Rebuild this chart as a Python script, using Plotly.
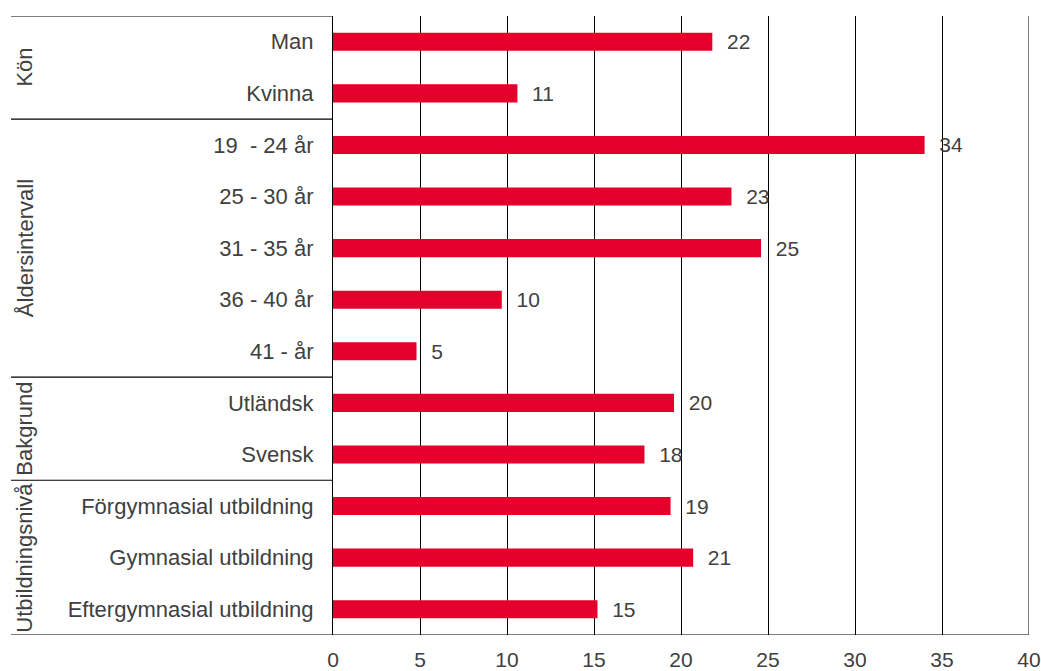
import plotly.graph_objects as go

categories = ["Man", "Kvinna", "19  - 24 år", "25 - 30 år", "31 - 35 år", "36 - 40 år", "41 - år",
              "Utländsk", "Svensk", "Förgymnasial utbildning", "Gymnasial utbildning",
              "Eftergymnasial utbildning"]
values = [21.8, 10.6, 34.0, 22.9, 24.6, 9.7, 4.8, 19.6, 17.9, 19.4, 20.7, 15.2]
value_labels = ["22", "11", "34", "23", "25", "10", "5", "20", "18", "19", "21", "15"]
groups = ["Kön", "Åldersintervall", "Bakgrund", "Utbildningsnivå"]
group_sizes = [2, 5, 2, 3]
x_ticks = [0, 5, 10, 15, 20, 25, 30, 35, 40]

RED = "#E4002B"
TXT = "#404040"
FONT = "Liberation Sans, Arial, sans-serif"
FS = 22

W, H = 1041, 671
L, R, T, B = 333, 12, 16, 36
PW = W - L - R

idx = list(range(len(categories)))

fig = go.Figure()
fig.add_trace(go.Bar(
    y=idx, x=values, orientation="h",
    marker=dict(color=RED, line=dict(width=0)),
    text=["  " + t for t in value_labels], textposition="outside",
    constraintext="none",
    textfont=dict(size=21, color=TXT, family=FONT),
    cliponaxis=False, width=0.35,
))

shapes = []
left = (11 - L) / PW
b = -0.5
bounds = [b]
for s in group_sizes:
    b += s
    bounds.append(b)
for yb in bounds[:-1]:
    shapes.append(dict(type="line", xref="paper", yref="y", x0=left, x1=0, y0=yb, y1=yb,
                       line=dict(color="black", width=1.2)))
shapes.append(dict(type="line", xref="paper", yref="y", x0=left, x1=1, y0=bounds[-1], y1=bounds[-1],
                   line=dict(color="black", width=1.2)))
shapes.append(dict(type="line", xref="x", yref="paper", x0=x_ticks[-1], x1=x_ticks[-1], y0=0, y1=1,
                   line=dict(color="black", width=1)))

annotations = []
for i, g in enumerate(groups):
    yc = (bounds[i] + bounds[i + 1]) / 2
    annotations.append(dict(text=g, xref="paper", yref="y", x=(25 - L) / PW, y=yc,
                            textangle=-90, showarrow=False, xanchor="center", yanchor="middle",
                            font=dict(size=FS, color=TXT, family=FONT)))

fig.update_layout(
    width=W, height=H,
    margin=dict(l=L, r=R, t=T, b=B, autoexpand=False),
    paper_bgcolor="white", plot_bgcolor="white",
    showlegend=False,
    shapes=shapes, annotations=annotations,
    xaxis=dict(range=[0, 40], tickvals=x_ticks, ticktext=[str(v) for v in x_ticks],
               showgrid=True, gridcolor="black", gridwidth=1, zeroline=False,
               showline=False, ticks="", ticklabelstandoff=10,
               tickfont=dict(size=21, color=TXT, family=FONT)),
    yaxis=dict(range=[bounds[-1], -0.5], tickvals=idx, ticktext=categories,
               showgrid=False, zeroline=False, showline=True, linecolor="black", linewidth=1.2,
               ticks="", ticklabelstandoff=14,
               tickfont=dict(size=FS, color=TXT, family=FONT)),
    font=dict(family=FONT, color=TXT),
)

fig.write_html("out.html", config={"displayModeBar": False},
               post_script="document.body.style.margin='0';document.body.style.overflow='hidden';")
